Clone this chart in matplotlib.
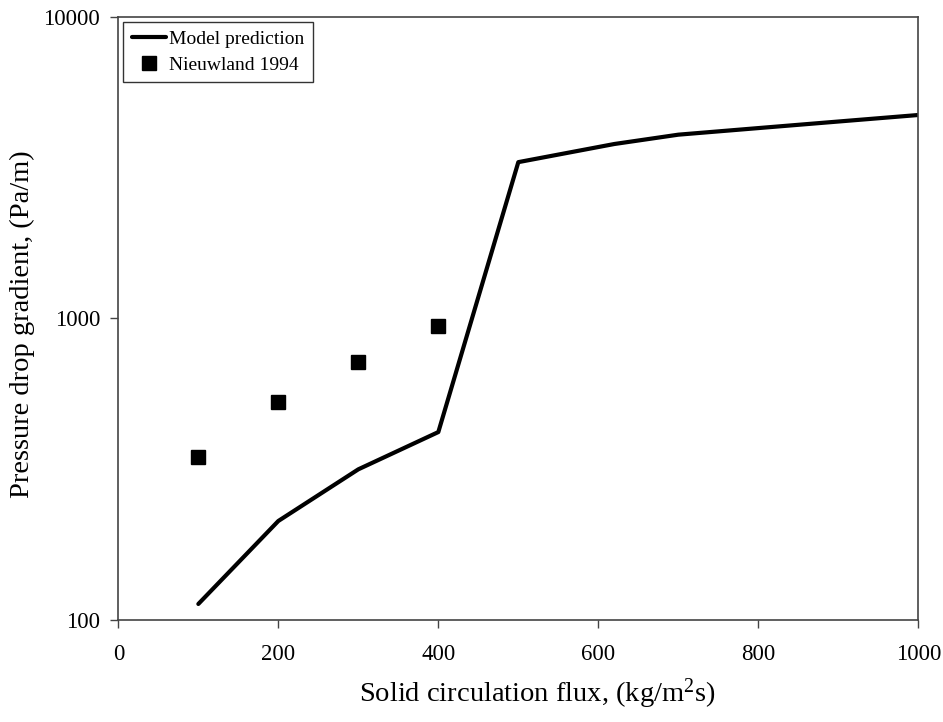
import matplotlib.pyplot as plt
from matplotlib.ticker import FixedLocator, FixedFormatter, NullLocator

plt.rcParams['font.family'] = ['Liberation Serif', 'DejaVu Serif']
plt.rcParams['mathtext.fontset'] = 'custom'
plt.rcParams['mathtext.rm'] = 'Liberation Serif'
plt.rcParams['mathtext.default'] = 'regular'

# model curve
flux_model = [100, 200, 300, 400, 500, 620, 700, 800, 900, 1000]
dp_model = [113, 213, 316, 420, 3300, 3790, 4070, 4280, 4500, 4730]

# Nieuwland 1994 measurements
flux_exp = [100, 200, 300, 400]
dp_exp = [346, 527, 716, 944]

fig = plt.figure(figsize=(9.43, 7.22), dpi=100)
ax = fig.add_axes([0.1255, 0.1413, 0.8483, 0.8352])

ax.plot(flux_model, dp_model, color='black', lw=3.0, solid_capstyle='round',
        label='Model prediction')
ax.plot(flux_exp, dp_exp, 's', color='black', ms=10, label='Nieuwland 1994')

ax.set_yscale('log')
ax.set_xlim(0, 1000)
ax.set_ylim(100, 10000)

ax.set_xticks([0, 200, 400, 600, 800, 1000])
ax.yaxis.set_major_locator(FixedLocator([100, 1000, 10000]))
ax.yaxis.set_major_formatter(FixedFormatter(['100', '1000', '10000']))
ax.yaxis.set_minor_locator(NullLocator())
ax.tick_params(axis='both', labelsize=16.5, direction='out', length=6,
               width=1, color='#444444')
ax.tick_params(axis='x', pad=11)
ax.tick_params(axis='y', pad=7)

for s in ax.spines.values():
    s.set_color('#444444')
    s.set_linewidth(1.2)

ax.set_xlabel('Solid circulation flux, (kg/m$^2$s)', fontsize=20.5)
ax.set_ylabel('Pressure drop gradient, (Pa/m)', fontsize=20.5)
ax.xaxis.set_label_coords(0.524, -0.094)
ax.yaxis.set_label_coords(-0.104, 0.49)

leg = ax.legend(loc='upper left', fontsize=14, frameon=True, fancybox=False,
                edgecolor='black', handlelength=1.75, handletextpad=0.15,
                borderaxespad=0.25, labelspacing=0.4, borderpad=0.45)
leg.get_frame().set_linewidth(1.0)

fig.savefig('out.png', dpi=100)
